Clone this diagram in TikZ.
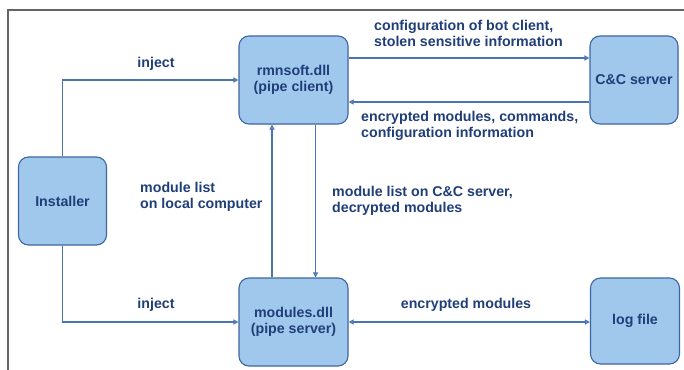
\documentclass[tikz,border=0pt]{standalone}
\usepackage{fontspec}
\setmainfont{Liberation Sans}
\usetikzlibrary{arrows.meta}
\definecolor{txtblue}{RGB}{32,62,120}
\definecolor{boxfill}{RGB}{160,200,236}
\definecolor{boxedge}{RGB}{62,102,160}
\definecolor{linecol}{RGB}{72,116,178}
\definecolor{framecol}{RGB}{100,100,100}
\tikzset{
  box/.style={draw=boxedge, fill=boxfill, line width=1.1pt, rounded corners=10pt,
    align=center, text=txtblue, font=\fontsize{14.2}{16}\selectfont\bfseries, inner sep=0pt},
  lbl/.style={align=left, text=txtblue, font=\fontsize{14.2}{16}\selectfont\bfseries, inner sep=0pt},
  conn/.style={draw=linecol, line width=1.2pt, -{Triangle[open,length=5pt,width=5pt]}},
  conn2/.style={draw=linecol, line width=1.2pt, {Triangle[open,length=5pt,width=5pt]}-{Triangle[open,length=5pt,width=5pt]}}
}
\begin{document}
\begin{tikzpicture}[x=1pt,y=-1pt]
\useasboundingbox (0,0) rectangle (684,369);
\fill[white] (0,0) rectangle (684,369);
\draw[framecol, line width=2pt] (690,10.5) -- (8,10.5) -- (8,375);

\node[box, minimum width=109pt, minimum height=88pt] (rmn) at (293.5,80) {rmnsoft.dll\\(pipe client)};
\node[box, minimum width=88pt, minimum height=88pt] (cc) at (634,80) {C\&C server};
\node[box, minimum width=88pt, minimum height=88pt] (inst) at (62.5,201) {Installer};
\node[box, minimum width=109pt, minimum height=88pt] (mod) at (293.5,322) {modules.dll\\(pipe server)};
\node[box, minimum width=89pt, minimum height=86pt] (log) at (635,321) {log file};

\draw[conn] (inst.north) |- (rmn.west);
\draw[conn] (inst.south) |- (mod.west);
\draw[conn] ([yshift=22pt]rmn.east) -- ([yshift=22pt]rmn.east -| cc.west);
\draw[conn] ([yshift=-22pt]rmn.east -| cc.west) -- ([yshift=-22pt]rmn.east);
\draw[conn] ([xshift=-21.5pt]mod.north) -- ([xshift=-21.5pt]rmn.south);
\draw[conn] ([xshift=22pt]rmn.south) -- ([xshift=22pt]mod.north);
\draw[conn2] (mod.east) -- (mod.east -| log.west);

\node[lbl] (l1) at (156,64) {inject};
\node[lbl, anchor=west] (l2) at (374,33) {configuration of bot client,\\stolen sensitive information};
\node[lbl, anchor=west] (l3) at (361,126) {encrypted modules, commands,\\configuration information};
\node[lbl, anchor=west] (l4) at (140,197) {module list\\on local computer};
\node[lbl, anchor=west] (l5) at (332,201) {module list on C\&C server,\\decrypted modules};
\node[lbl] (l6) at (156,305) {inject};
\node[lbl] (l7) at (466,305) {encrypted modules};
\end{tikzpicture}
\end{document}
